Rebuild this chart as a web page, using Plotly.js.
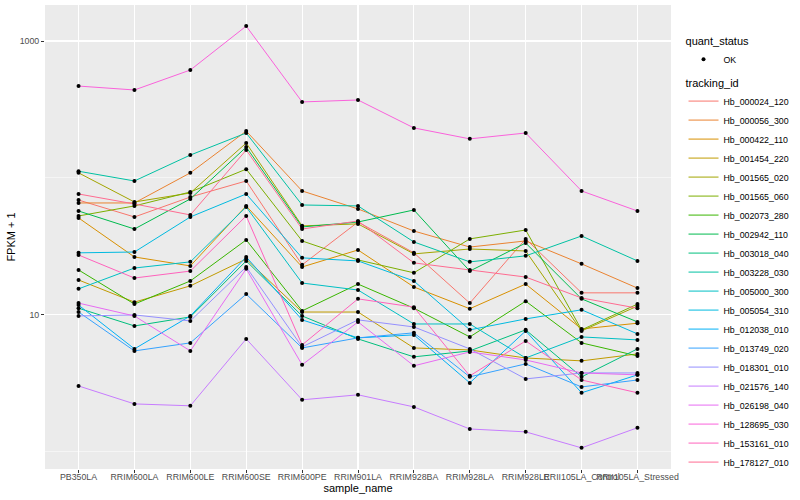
<!DOCTYPE html>
<html><head><meta charset="utf-8">
<script src="https://cdn.plot.ly/plotly-3.0.1.min.js"></script>
<style>html,body{margin:0;padding:0;background:#fff}#chart{width:800px;height:500px}</style>
</head><body><div id="chart"></div>
<script>
const sampleNames = ['PB350LA','RRIM600LA','RRIM600LE','RRIM600SE','RRIM600PE','RRIM901LA','RRIM928BA','RRIM928LA','RRIM928LE','RRII105LA_Control','RRII105LA_Stressed'];
const trackingIds = ['Hb_000024_120','Hb_000056_300','Hb_000422_110','Hb_001454_220','Hb_001565_020','Hb_001565_060','Hb_002073_280','Hb_002942_110','Hb_003018_040','Hb_003228_030','Hb_005000_300','Hb_005054_310','Hb_012038_010','Hb_013749_020','Hb_018301_010','Hb_021576_140','Hb_026198_040','Hb_128695_030','Hb_153161_010','Hb_178127_010'];

// FPKM + 1 values, one array per tracking_id, in sampleNames order
const Hb_000024_120 = [69.0, 51.9, 72.6, 95.1, 23.2, 47.7, 28.4, 12.2, 35.9, 14.5, 14.5];
const Hb_000056_300 = [65.7, 65.7, 109, 220, 80.4, 59.4, 41.0, 31.3, 34.7, 23.6, 15.7];
const Hb_000422_110 = [51.1, 26.5, 22.8, 62.5, 22.4, 29.8, 16.0, 11.1, 16.8, 7.9, 8.7];
const Hb_001454_220 = [18.0, 12.4, 16.3, 25.6, 10.5, 10.5, 5.74, 5.55, 4.85, 4.62, 5.19];
const Hb_001565_020 = [109, 66.8, 77.7, 180, 44.7, 46.2, 27.9, 30.3, 29.3, 7.64, 11.6];
const Hb_001565_060 = [52.8, 62.5, 79.0, 116, 34.7, 25.2, 20.3, 35.9, 41.7, 7.78, 12.0];
const Hb_002073_280 = [21.3, 12.0, 17.7, 35.3, 10.7, 16.8, 11.2, 6.91, 12.6, 6.25, 5.02];
const Hb_002942_110 = [57.4, 42.4, 70.3, 168, 43.9, 47.7, 58.4, 20.9, 33.5, 13.1, 8.89];
const Hb_003018_040 = [11.2, 8.31, 9.67, 24.8, 9.83, 6.68, 4.94, 5.46, 7.78, 3.53, 5.65];
const Hb_003228_030 = [112, 95.1, 147, 213, 63.5, 62.5, 34.1, 24.4, 27.0, 37.7, 24.8];
const Hb_005000_300 = [15.5, 22.0, 24.4, 61.4, 17.1, 15.2, 8.59, 8.59, 4.85, 6.91, 6.57];
const Hb_005054_310 = [28.4, 28.8, 51.9, 76.4, 26.1, 24.8, 17.7, 7.78, 9.35, 10.9, 7.27];
const Hb_012038_010 = [11.8, 5.65, 9.83, 26.5, 9.20, 6.80, 7.15, 3.19, 7.64, 2.70, 3.65];
const Hb_013749_020 = [10.5, 5.46, 6.25, 14.2, 5.74, 6.80, 7.40, 3.53, 4.39, 2.98, 3.35];
const Hb_018301_010 = [9.83, 10.0, 9.04, 22.4, 5.84, 9.20, 8.17, 5.65, 3.41, 3.77, 3.77];
const Hb_021576_140 = [3.03, 2.24, 2.17, 6.68, 2.40, 2.61, 2.13, 1.47, 1.40, 1.07, 1.50];
const Hb_026198_040 = [12.2, 9.83, 5.46, 21.7, 4.32, 8.89, 4.25, 5.37, 4.69, 3.77, 3.65];
const Hb_128695_030 = [469, 439, 614, 1285, 359, 371, 232, 193, 213, 80.4, 57.4];
const Hb_153161_010 = [27.4, 18.6, 20.9, 52.8, 6.04, 13.1, 11.4, 3.59, 6.46, 3.35, 2.70];
const Hb_178127_010 = [76.4, 64.6, 53.7, 160, 42.4, 48.5, 24.0, 21.3, 18.9, 13.3, 11.2];

const seriesValues = [Hb_000024_120, Hb_000056_300, Hb_000422_110, Hb_001454_220, Hb_001565_020, Hb_001565_060, Hb_002073_280, Hb_002942_110, Hb_003018_040, Hb_003228_030, Hb_005000_300, Hb_005054_310, Hb_012038_010, Hb_013749_020, Hb_018301_010, Hb_021576_140, Hb_026198_040, Hb_128695_030, Hb_153161_010, Hb_178127_010];
const quantStatus = 'OK';

const palette = ['#F8766D','#EA8331','#D89000','#C09B00','#A3A500','#7CAE00','#39B600','#00BB4E','#00BF7D','#00C1A3','#00BFC4','#00BAE0','#00B0F6','#35A2FF','#9590FF','#C77CFF','#E76BF3','#FA62DB','#FF62BC','#FF6C91'];

const traces = trackingIds.map((id, i) => ({
  type: 'scatter', mode: 'lines', x: sampleNames, y: seriesValues[i], name: id,
  line: {color: palette[i], width: 1}, legend: 'legend2', hoverinfo: 'skip'
}));
const px = [], py = [];
seriesValues.forEach(v => v.forEach((val, j) => { px.push(sampleNames[j]); py.push(val); }));
traces.push({type: 'scatter', mode: 'markers', x: px, y: py, name: quantStatus,
  marker: {color: '#000', size: 4}, legend: 'legend', hoverinfo: 'skip'});

const layout = {
  width: 800, height: 500,
  margin: {l: 45, r: 112, t: 5, b: 31},
  paper_bgcolor: '#fff', plot_bgcolor: '#EBEBEB',
  font: {family: 'Liberation Sans, Arial, sans-serif', size: 9, color: '#4D4D4D'},
  showlegend: true,
  xaxis: {type: 'category', range: [-0.6, 10.6], showgrid: true, gridcolor: '#fff', gridwidth: 1.1,
    ticks: 'outside', ticklen: 3, tickcolor: '#333', tickangle: 0, zeroline: false, showline: false,
    tickfont: {size: 8.8, color: '#4D4D4D'}, automargin: false, ticklabelstandoff: -4,
    title: {text: 'sample_name', font: {size: 11, color: '#000'}, standoff: 0}},
  yaxis: {type: 'log', range: [-0.125, 3.263], tickvals: [10, 1000], ticktext: ['10', '1000'],
    showgrid: true, gridcolor: '#fff', gridwidth: 1.1, ticks: 'outside', ticklen: 3, tickcolor: '#333',
    zeroline: false, showline: false, tickfont: {size: 8.8, color: '#4D4D4D'}, automargin: false,
    minor: {tickvals: [1, 100], showgrid: true, gridcolor: '#fff', gridwidth: 0.5, ticks: ''},
    title: {text: 'FPKM + 1', font: {size: 11, color: '#000'}, standoff: 1}},
  legend: {title: {text: 'quant_status', font: {size: 11, color: '#000'}}, x: 1.02, xanchor: 'left',
    y: 0.945, yanchor: 'top', font: {size: 8.8, color: '#000'}, bgcolor: 'rgba(0,0,0,0)'},
  legend2: {title: {text: 'tracking_id', font: {size: 11, color: '#000'}}, x: 1.02, xanchor: 'left',
    y: 0.855, yanchor: 'top', font: {size: 8.8, color: '#000'}, bgcolor: 'rgba(0,0,0,0)'}
};
Plotly.newPlot('chart', traces, layout, {displayModeBar: false, staticPlot: true});
</script></body></html>
